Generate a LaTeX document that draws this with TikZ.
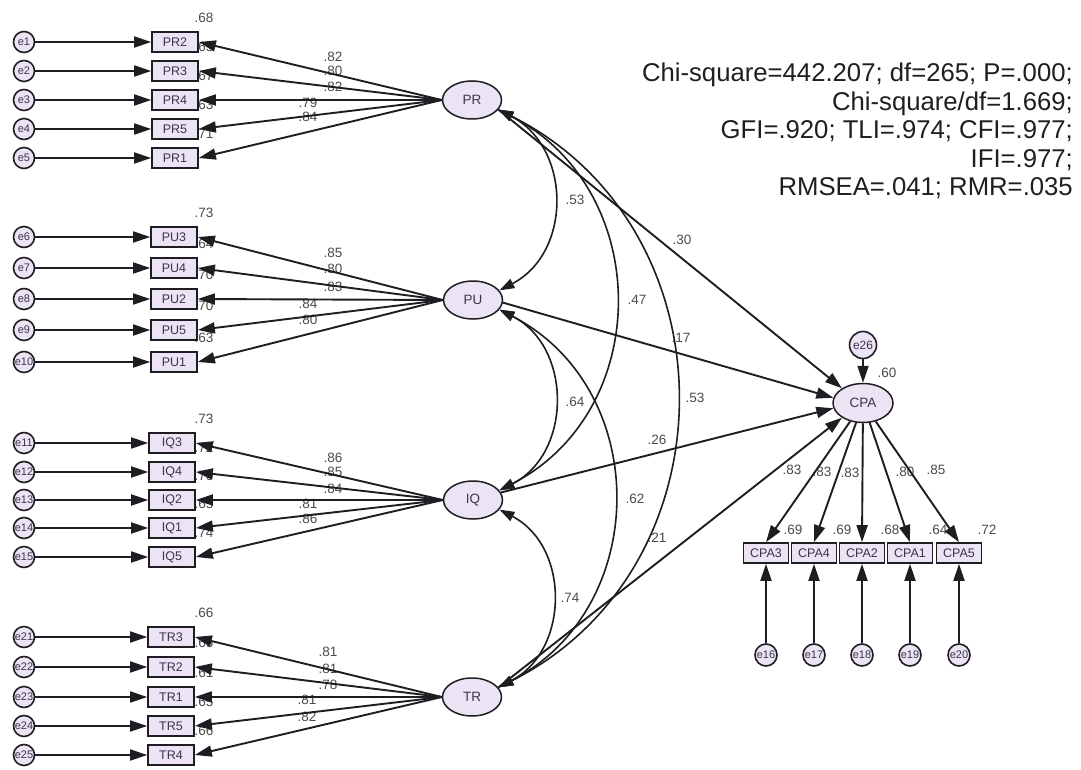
\documentclass[tikz,border=0pt]{standalone}
\usepackage{fontspec}
\setmainfont{Liberation Sans}
\usetikzlibrary{arrows.meta,shapes.geometric}
\definecolor{linec}{RGB}{30,30,34}
\definecolor{nodefill}{RGB}{236,228,245}
\definecolor{labc}{RGB}{58,54,78}
\definecolor{numc}{RGB}{75,75,75}
\tikzset{
  ind/.style={draw=linec, fill=nodefill, line width=1.7pt, minimum width=46pt,
    minimum height=20pt, inner sep=0pt, text=labc, font=\fontsize{12.5}{14}\selectfont},
  err/.style={circle, draw=linec, fill=nodefill, line width=1.6pt, minimum size=21pt,
    inner sep=0pt, text=labc, font=\fontsize{11}{12}\selectfont},
  lat/.style={ellipse, draw=linec, fill=nodefill, line width=1.5pt, minimum width=59pt,
    minimum height=38pt, inner sep=0pt, text=labc, font=\fontsize{13.5}{15}\selectfont},
  num/.style={inner sep=0pt, text=numc, font=\fontsize{13.5}{14}\selectfont},
  arr/.style={draw=linec, line width=1.9pt, -{Triangle[length=17pt,width=11pt]}},
  cov/.style={draw=linec, line width=1.6pt,
    {Triangle[length=15pt,width=10pt]}-{Triangle[length=15pt,width=10pt]}},
}
\begin{document}
\begin{tikzpicture}[x=1pt,y=-1pt]
\fill[white] (0,0) rectangle (1081,770);
\useasboundingbox (0,0) rectangle (1081,770);

% fit statistics
\node[anchor=north east, align=right, inner sep=0pt, text=black!88,
      font=\fontsize{25.7}{28.5}\selectfont] (fit) at (1073,63)
  {Chi-square=442.207; df=265; P=.000;\\
   Chi-square/df=1.669;\\
   GFI=.920; TLI=.974; CFI=.977;\\
   IFI=.977;\\
   RMSEA=.041; RMR=.035};

% latent variables
\node[lat] (PR) at (472,100) {PR};
\node[lat] (PU) at (473,300) {PU};
\node[lat] (IQ) at (473,500) {IQ};
\node[lat] (TR) at (472,697) {TR};
\node[lat, minimum width=60pt, minimum height=39pt] (CPA) at (863,403) {CPA};

% squared multiple correlations and loadings (under the arrows)
\foreach \yy/\rs in {42/.68,71/.65,100/.67,129/.63,158/.71,
                     237/.73,268/.64,299/.70,330/.70,362/.63,
                     443/.73,472/.72,500/.70,528/.65,557/.74,
                     637/.66,667/.65,697/.61,726/.65,755/.66}
  \node[num] at (204,{\yy-24}) {\rs};
\foreach \lx/\ly/\ld in {333/57/.82,333/71/.80,333/87/.82,308/103/.79,308/117/.84,
                         333/253/.85,333/269/.80,333/287/.83,308/304/.84,308/320/.80,
                         333/458/.86,333/472/.85,333/489/.84,308/504/.81,308/519/.86,
                         328/652/.81,328/669/.81,328/685/.78,307/700/.81,307/717/.82}
  \node[num] at (\lx,\ly) {\ld};
\foreach \lx/\ly/\ld in {575/200/.53,682/240/.30,637/300/.47,681/338/.17,575/402/.64,
                         695/398/.53,657/440/.26,635/499/.62,657/538/.21,570/598/.74,
                         887/373/.60,
                         792/470/.83,822/472/.83,850/473/.83,905/472/.80,936/470/.85,
                         793/530/.69,842/530/.69,890/530/.68,938/530/.64,987/530/.72}
  \node[num] at (\lx,\ly) {\ld};

% measurement model, left blocks
\foreach \nm/\bx/\yy/\ee/\lv in {PR2/175/42/e1/PR,PR3/175/71/e2/PR,PR4/175/100/e3/PR,
                                PR5/175/129/e4/PR,PR1/175/158/e5/PR,
                                PU3/174/237/e6/PU,PU4/174/268/e7/PU,PU2/174/299/e8/PU,
                                PU5/174/330/e9/PU,PU1/174/362/e10/PU,
                                IQ3/172/443/e11/IQ,IQ4/172/472/e12/IQ,IQ2/172/500/e13/IQ,
                                IQ1/172/528/e14/IQ,IQ5/172/557/e15/IQ,
                                TR3/171/637/e21/TR,TR2/171/667/e22/TR,TR1/171/697/e23/TR,
                                TR5/171/726/e24/TR,TR4/171/755/e25/TR}{
  \node[ind] (\nm) at (\bx,\yy) {\nm};
  \node[err] (\ee) at (24,\yy) {\ee};
  \draw[arr] (\ee) -- (\nm);
  \draw[arr] (\lv.west) -- (\nm.east);
}

% measurement model of CPA
\node[err, minimum size=27pt, font=\fontsize{12}{13}\selectfont] (e26) at (863,345) {e26};
\draw[arr] (e26) -- (CPA);
\foreach \nm/\bx/\ee in {CPA3/766/e16,CPA4/814/e17,CPA2/862/e18,CPA1/910/e19,CPA5/959/e20}{
  \node[ind, minimum width=45pt] (\nm) at (\bx,553) {\nm};
  \node[err, minimum size=22pt] (\ee) at (\bx,655) {\ee};
  \draw[arr] (CPA) -- (\nm.north);
  \draw[arr] (\ee) -- (\nm);
}

% structural paths
\draw[arr] (PR.-20) -- (CPA.145);
\draw[arr] (PU.-5) -- (CPA.170);
\draw[arr] (IQ.15) -- (CPA.190);
\draw[arr] (TR.20) -- (CPA.215);

% covariances
\draw[cov] (PR.-20) .. controls +(73,38) and +(73,-38) .. (PU.20);
\draw[cov] (PR.-20) .. controls +(155,80) and +(155,-80) .. (IQ.20);
\draw[cov] (PR.-20) .. controls +(237,119) and +(237,-119) .. (TR.20);
\draw[cov] (PU.-20) .. controls +(73,37) and +(73,-37) .. (IQ.20);
\draw[cov] (PU.-20) .. controls +(153,79) and +(153,-79) .. (TR.20);
\draw[cov] (IQ.-20) .. controls +(71,37) and +(71,-37) .. (TR.20);
\end{tikzpicture}
\end{document}
